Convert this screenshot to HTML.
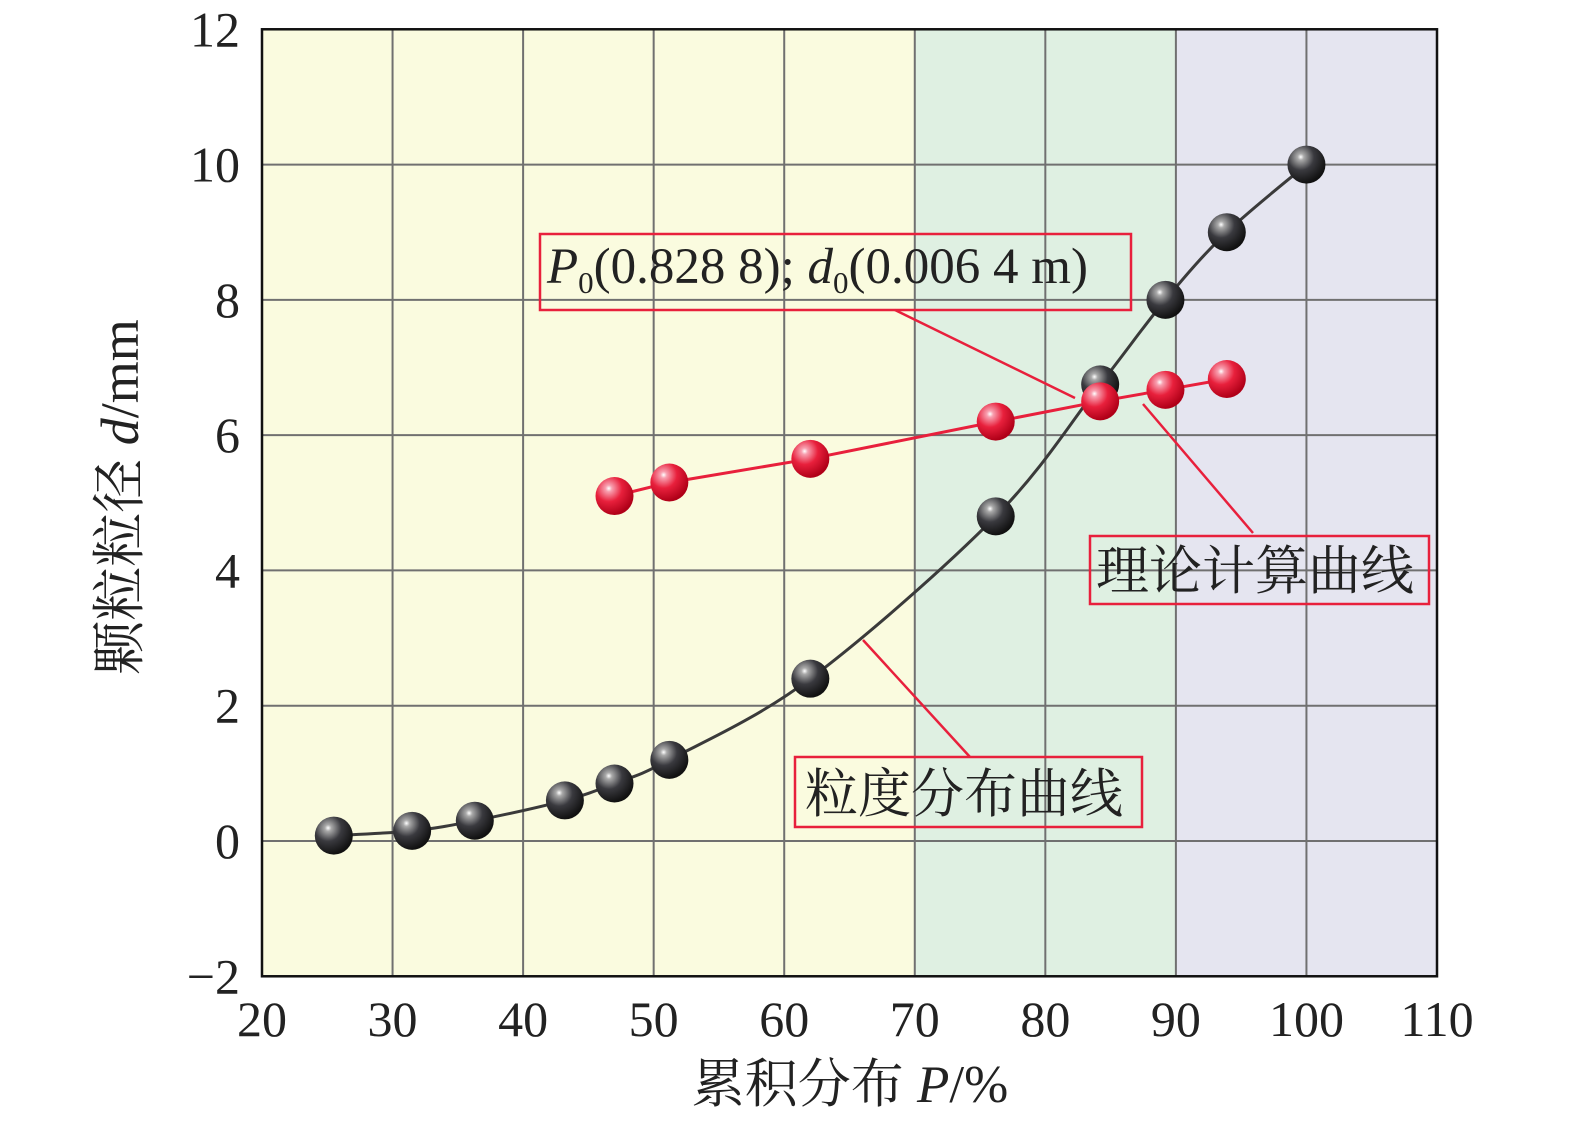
<!DOCTYPE html>
<html><head><meta charset="utf-8"><style>
body{margin:0;background:#fff}
text{font-family:"Liberation Serif","Noto Serif CJK SC",serif;fill:#222}
</style></head><body>
<svg id="chart" width="1575" height="1126" xmlns="http://www.w3.org/2000/svg">
<defs>
<radialGradient id="gb" cx="0.35" cy="0.3" r="0.7"><stop offset="0" stop-color="#fff"/><stop offset="0.12" stop-color="#aaa"/><stop offset="0.5" stop-color="#3a3a3f"/><stop offset="1" stop-color="#111"/></radialGradient>
<radialGradient id="gr" cx="0.35" cy="0.3" r="0.7"><stop offset="0" stop-color="#fff"/><stop offset="0.12" stop-color="#f8a0b0"/><stop offset="0.5" stop-color="#e8203c"/><stop offset="1" stop-color="#b00018"/></radialGradient>
</defs>
<g id="bg"></g><g id="grid"></g><g id="lines"></g><g id="marks"></g><g id="ann"></g><g id="ticks"></g>
<text x="850" y="1102" text-anchor="middle" font-size="53">累积分布 <tspan font-style="italic">P</tspan>/%</text>
<text transform="translate(138,497) rotate(-90)" text-anchor="middle" font-size="54">颗粒粒径 <tspan font-style="italic">d</tspan>/mm</text>
</svg>
<script>
const xTicks=[20,30,40,50,60,70,80,90,100,110];
const yTicks=[-2,0,2,4,6,8,10,12];
const distX=[25.5,31.5,36.3,43.2,47,51.2,62,76.2,84.2,89.2,93.9,100];
const distY=[0.08,0.15,0.3,0.6,0.85,1.2,2.4,4.8,6.75,8.0,9.0,10];
const theoX=[47,51.2,62,76.2,84.2,89.2,93.9];
const theoY=[5.1,5.3,5.65,6.2,6.5,6.67,6.83];
const NS='http://www.w3.org/2000/svg';
const X=v=>262+(v-20)*1175/90, Y=v=>841-v*947/14;
function mk(p,t,a){const e=document.createElementNS(NS,t);for(const k in a)e.setAttribute(k,a[k]);document.getElementById(p).appendChild(e);return e;}
[[20,70,'#fafbdf'],[70,90,'#dff0e2'],[90,110,'#e5e5f0']].forEach(b=>{
 const r=mk('bg','rect',{x:X(b[0]),y:Y(12),width:X(b[1])-X(b[0]),height:Y(-2)-Y(12),fill:b[2]});
 
 
});
xTicks.forEach(t=>{
 const l=mk('grid','line',{x1:X(t),x2:X(t),y1:Y(12),y2:Y(-2),stroke:'#707070','stroke-width':2});
 
 
 const s=mk('ticks','text',{x:X(t),y:1036,'text-anchor':'middle','font-size':50});s.textContent=t;
 
 
});
yTicks.forEach(t=>{
 const l=mk('grid','line',{x1:X(20),x2:X(110),y1:Y(t),y2:Y(t),stroke:'#707070','stroke-width':2});
 
 
 const s=mk('ticks','text',{x:240,y:Y(t)+17,'text-anchor':'end','font-size':50});s.textContent=t<0?'\u2212'+(-t):t;
 
 
});
const fr=mk('grid','rect',{x:X(20),y:Y(12),width:X(110)-X(20),height:Y(-2)-Y(12),fill:'none',stroke:'#111','stroke-width':2.5});


function smooth(xs,ys){const p=xs.map((x,i)=>[X(x),Y(ys[i])]);let d='M'+p[0];for(let i=0;i<p.length-1;i++){const a=p[i-1]||p[i],b=p[i],c=p[i+1],e=p[i+2]||c;d+=' C'+(b[0]+(c[0]-a[0])/6)+','+(b[1]+(c[1]-a[1])/6)+' '+(c[0]-(e[0]-b[0])/6)+','+(c[1]-(e[1]-b[1])/6)+' '+c;}return d;}
const l1=mk('lines','path',{d:smooth(distX,distY),fill:'none',stroke:'#3a3a3a','stroke-width':3});


const l2=mk('lines','polyline',{points:theoX.map((x,i)=>X(x)+','+Y(theoY[i])).join(' '),fill:'none',stroke:'#e8203c','stroke-width':3});


distX.forEach((x,i)=>{const c=mk('marks','circle',{cx:X(x),cy:Y(distY[i]),r:19,fill:'url(#gb)'});
 
 });
theoX.forEach((x,i)=>{const c=mk('marks','circle',{cx:X(x),cy:Y(theoY[i]),r:19,fill:'url(#gr)'});
 
 });
[[895,310,1075,398],[1253,533,1143,404],[970,757,863,640]].forEach(s=>{mk('ann','line',{x1:s[0],y1:s[1],x2:s[2],y2:s[3],stroke:'#e8203c','stroke-width':2.5});});
[[540,234,591,76],[1090,536,339,68],[795,757,347,70]].forEach(b=>{const r=mk('ann','rect',{x:b[0],y:b[1],width:b[2],height:b[3],fill:'none',stroke:'#e8203c','stroke-width':2.5});
 
 });
const a1=mk('ann','text',{x:547,y:283,'font-size':51});
a1.innerHTML='<tspan font-style="italic">P</tspan><tspan font-size="31" dy="10">0</tspan><tspan dy="-10">(0.828 8); </tspan><tspan font-style="italic">d</tspan><tspan font-size="31" dy="10">0</tspan><tspan dy="-10">(0.006 4 m)</tspan>';


const a2=mk('ann','text',{x:1096,y:589,'font-size':53});a2.textContent='理论计算曲线';


const a3=mk('ann','text',{x:805,y:812,'font-size':53});a3.textContent='粒度分布曲线';


</script>
</body></html>
